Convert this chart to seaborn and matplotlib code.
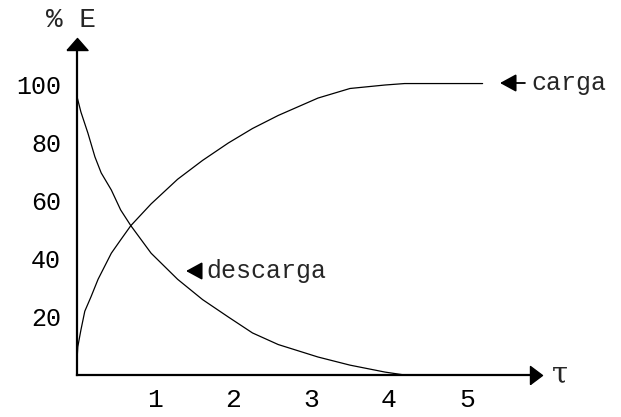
import matplotlib
matplotlib.use("Agg")
import matplotlib.pyplot as plt
import seaborn as sns
import pandas as pd

# Energy (%) against time in units of tau
t_carga = [0, 0, 0.01, 0.05, 0.10, 0.18, 0.27, 0.44, 0.56, 0.69, 0.95, 1.29, 1.61,
           1.94, 2.25, 2.58, 3.09, 3.50, 3.95, 4.20, 5.20]
e_carga = [0, 5, 9.7, 15.5, 22, 27, 33, 42, 46.6, 51.5, 59, 67.5, 74,
           80, 85, 89.5, 95.5, 98.8, 100, 100.5, 100.5]

t_descarga = [0, 0, 0.05, 0.14, 0.23, 0.31, 0.44, 0.56, 0.69, 0.95, 1.29, 1.61,
              1.94, 2.25, 2.58, 3.09, 3.50, 3.95, 4.20, 5.30]
e_descarga = [100, 96, 90.7, 83.4, 75.2, 69.7, 63.8, 56.9, 51.5, 42, 33, 26,
              20, 14.5, 10.5, 6.2, 3.4, 1, 0, 0]

x_ticks = [1, 2, 3, 4, 5]
y_ticks = [20, 40, 60, 80, 100]

df = pd.concat([
    pd.DataFrame({"t": t_carga, "E": e_carga, "curva": "carga"}),
    pd.DataFrame({"t": t_descarga, "E": e_descarga, "curva": "descarga"}),
])

sns.set_style("white")
plt.rcParams["font.family"] = ["Liberation Mono", "DejaVu Sans Mono"]

W, H = 621, 417
fig = plt.figure(figsize=(W / 100, H / 100), dpi=100)
ax = fig.add_axes([77 / W, 42 / H, (530 - 77) / W, (375 - 50) / H])

sns.lineplot(data=df, x="t", y="E", units="curva", estimator=None, sort=False,
             color="black", lw=0.9, ax=ax)

ax.set_xlim(0, (530 - 77) / 78)
ax.set_ylim(0, (375 - 50) / 2.9)
ax.set_xticks(x_ticks)
ax.set_yticks(y_ticks)
ax.set_xticklabels([str(v) for v in x_ticks], fontsize=19)
ax.set_yticklabels([str(v) for v in y_ticks], fontsize=18)
ax.set_xlabel("")
ax.set_ylabel("")

for side in ("top", "right"):
    ax.spines[side].set_visible(False)
for side in ("left", "bottom"):
    ax.spines[side].set_linewidth(1.6)
    ax.spines[side].set_color("black")
ax.tick_params(direction="out", length=6.5, width=1.1, color="black",
               labelcolor="black")
ax.tick_params(axis="y", pad=5)
ax.tick_params(axis="x", pad=3)

# arrow heads at the ends of both axes
up = [(-10.5, 0), (10.5, 0), (0, 12), (-10.5, 0)]
right = [(0, -9), (0, 9), (12, 0), (0, -9)]
ax.plot([0], [1], marker=up, ms=17.3, color="black", transform=ax.transAxes, clip_on=False)
ax.plot([1], [0], marker=right, ms=17.3, color="black", transform=ax.transAxes, clip_on=False)

# axis titles
fig.text(71 / W, 1 - 20 / H, "% E", fontsize=20, ha="center", va="center")
fig.text(560 / W, 1 - 374 / H, "τ", fontsize=21, family=["DejaVu Serif"],
         ha="center", va="center")

# curve labels with arrows
arrow = dict(arrowstyle="-|>,head_length=0.55,head_width=0.3", color="black",
             lw=1.3, shrinkA=2, shrinkB=0)
ax.annotate("carga", xy=((500 - 77) / 78, (375 - 83) / 2.9),
            xytext=((531 - 77) / 78, (375 - 83) / 2.9),
            ha="left", va="center", fontsize=18, arrowprops=arrow,
            annotation_clip=False)
ax.annotate("descarga", xy=((186 - 77) / 78, (375 - 271) / 2.9),
            xytext=((206 - 77) / 78, (375 - 271) / 2.9),
            ha="left", va="center", fontsize=18, arrowprops=arrow,
            annotation_clip=False)

fig.savefig("out.png", dpi=100)
